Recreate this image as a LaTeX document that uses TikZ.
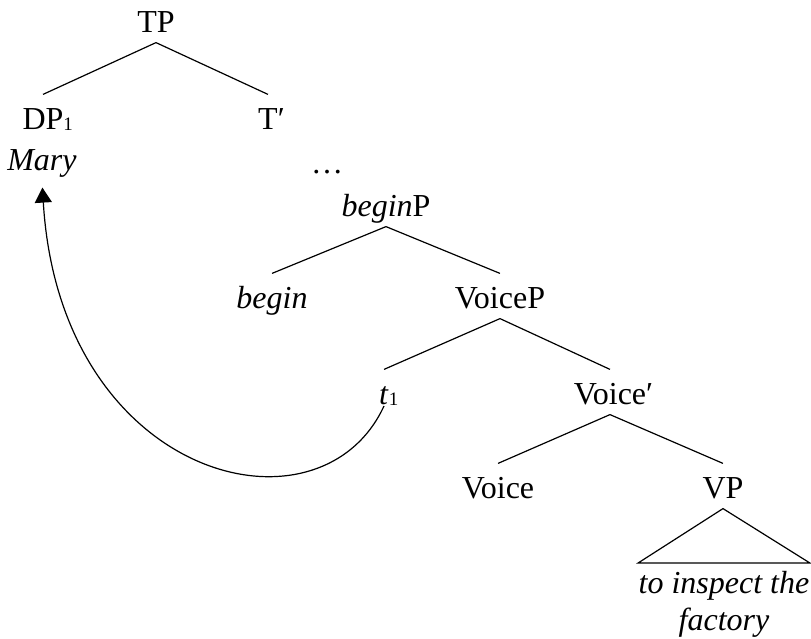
\documentclass[tikz,border=0pt]{standalone}
\usepackage{fontspec}
\setmainfont{Liberation Serif}
\newfontfamily\treefont{Liberation Serif}
\usetikzlibrary{arrows.meta}
\newcommand{\idx}[1]{\rlap{\raisebox{-0.5pt}{\fontsize{9.5}{10}\selectfont #1}}}

\begin{document}
\begin{tikzpicture}[x=0.5pt,y=-0.5pt,line width=0.6pt]
    \tikzstyle{cat}=[anchor=base,inner sep=2pt,text height=15pt,text depth=3pt,font=\treefont\fontsize{16}{18.5}\selectfont]
    \useasboundingbox (0,0) rectangle (811,639);

    \foreach \name/\x/\y/\txt in {TP/156/32/TP, DP/43/129/DP\idx{1}, Tbar/268/129/T\rlap{′},
            Mary/42/170/\textit{Mary}, dots/327/173/\ldots, beginP/386/216/\textit{begin}P,
            begin/272/308/\textit{begin}, VoiceP/500/308/VoiceP, t1/384/404/\textit{t}\idx{1},
            Voicebar/610/404/Voice\rlap{′}, Voice/498/498/Voice, VP/723/498/VP}
        \node[cat] (\name) at (\x,\y) {\txt};

    \node[anchor=north,inner xsep=0pt,inner ysep=4pt,align=center,font=\treefont\fontsize{16}{18.5}\selectfont\itshape]
        (leaf) at (724,563) {to inspect the\\factory};

    \foreach \from/\to in {TP/DP, TP/Tbar, beginP/begin, beginP/VoiceP, VoiceP/t1, VoiceP/Voicebar, Voicebar/Voice, Voicebar/VP}
        \draw (\from.south) -- (\to.north);

    \draw (VP.south) -- (leaf.north west) -- (leaf.north east) -- cycle;

    % movement of the subject
    \draw[-{Triangle[length=7.5pt,width=8.5pt]},shorten >=3.5pt] ([yshift=-1pt]t1.base) .. controls (320,545) and (60,480) .. (Mary.south);
\end{tikzpicture}
\end{document}
